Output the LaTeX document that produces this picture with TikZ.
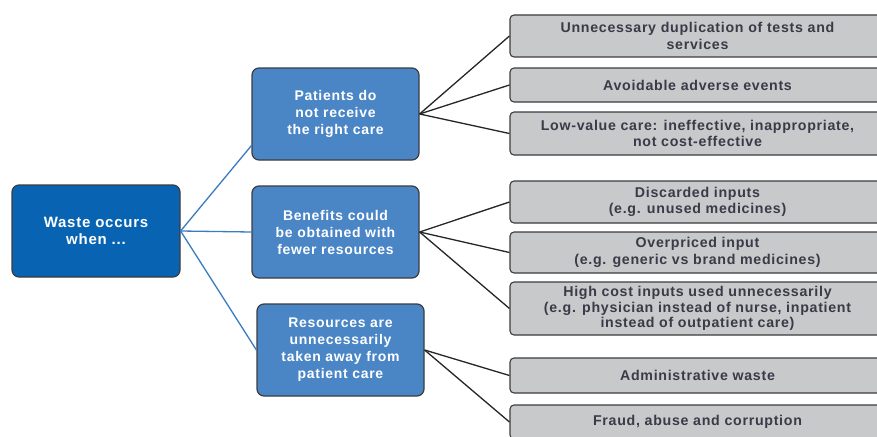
\documentclass[tikz,border=0pt]{standalone}
\usepackage{fontspec}
\setmainfont{Liberation Sans}[LetterSpace=5]
\usetikzlibrary{calc}
\definecolor{darkblue}{RGB}{8,100,178}
\definecolor{midblue}{RGB}{74,134,198}
\definecolor{boxgray}{RGB}{200,201,203}
\definecolor{edgegray}{RGB}{60,60,64}
\definecolor{lineblue}{RGB}{58,124,192}
\definecolor{txtgray}{RGB}{58,58,72}
\begin{document}
\begin{tikzpicture}[x=1pt,y=-1pt,
  rootbox/.style={draw=edgegray, line width=1.2pt, fill=darkblue, rounded corners=7pt,
    minimum width=168pt, minimum height=92pt, text=white,
    font=\fontsize{15}{17}\selectfont\bfseries, align=center, inner sep=0pt},
  catbox/.style={draw=edgegray, line width=1.2pt, fill=midblue, rounded corners=7pt,
    minimum width=167pt, minimum height=92pt, text=white,
    font=\fontsize{14}{17}\selectfont\bfseries, align=center, inner sep=0pt},
  itembox/.style={draw=edgegray, line width=1.1pt, fill=boxgray, rounded corners=4pt,
    minimum width=375pt, text=txtgray,
    font=\fontsize{14.2}{16.5}\selectfont\bfseries, align=center, inner sep=0pt},
  blueline/.style={draw=lineblue, line width=1.3pt},
  blackline/.style={draw=black!85, line width=1.3pt}]
\useasboundingbox[fill=white] (0,0) rectangle (877,436);

% root
\node[rootbox] (root) at (96,231) {Waste occurs\\when ...};

% categories
\node[catbox] (c1) at (335.5,114) {Patients do\\not receive\\the right care};
\node[catbox] (c2) at (335.5,232) {Benefits could\\be obtained with\\fewer resources};
\node[catbox] (c3) at (340.5,350) {Resources are\\unnecessarily\\taken away from\\patient care};

% items
\node[itembox, minimum height=42pt] (b1) at (697.5,36) {Unnecessary duplication of tests and\\services};
\node[itembox, minimum height=34pt] (b2) at (697.5,85) {Avoidable adverse events};
\node[itembox, minimum height=43pt] (b3) at (697.5,133.5) {Low-value care: ineffective, inappropriate,\\not cost-effective};
\node[itembox, minimum height=42pt] (b4) at (697.5,202) {Discarded inputs\\(e.g. unused medicines)};
\node[itembox, minimum height=41pt] (b5) at (697.5,252.5) {Overpriced input\\(e.g. generic vs brand medicines)};
\node[itembox, minimum height=53pt, font=\fontsize{14.2}{15.5}\selectfont\bfseries] (b6) at (697.5,308.5) {High cost inputs used unnecessarily\\(e.g. physician instead of nurse, inpatient\\instead of outpatient care)};
\node[itembox, minimum height=35pt] (b7) at (697.5,375.5) {Administrative waste};
\node[itembox, minimum height=34pt] (b8) at (697.5,422) {Fraud, abuse and corruption};

% blue connectors
\draw[blueline] (root.east) -- ([yshift=15pt]c1.south west);
\draw[blueline] (root.east) -- (c2.west);
\draw[blueline] (root.east) -- (c3.west);

% black connectors
\draw[blackline] (c1.east) -- (b1.west);
\draw[blackline] (c1.east) -- (b2.west);
\draw[blackline] (c1.east) -- (b3.west);
\draw[blackline] (c2.east) -- (b4.west);
\draw[blackline] (c2.east) -- (b5.west);
\draw[blackline] (c2.east) -- (b6.west);
\draw[blackline] (c3.east) -- (b7.west);
\draw[blackline] (c3.east) -- (b8.west);
\end{tikzpicture}
\end{document}
